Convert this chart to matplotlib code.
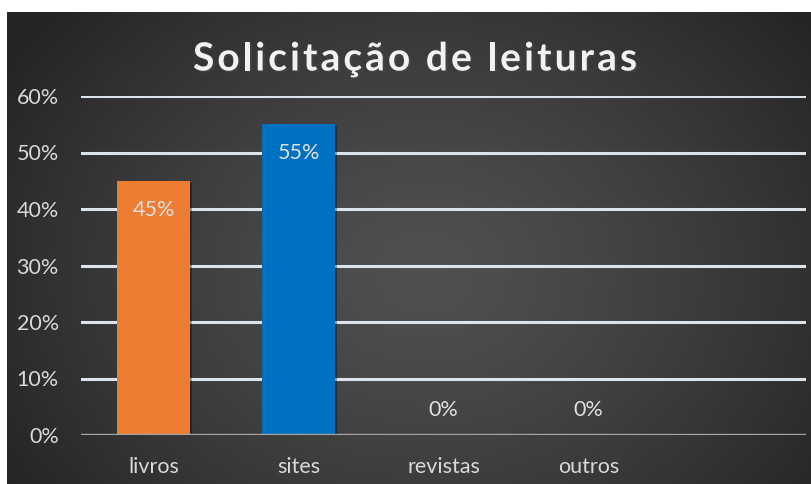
import numpy as np
import matplotlib
matplotlib.use("Agg")
import matplotlib.pyplot as plt
import matplotlib.patheffects as pe
from matplotlib.font_manager import FontProperties

categories = ["livros", "sites", "revistas", "outros", ""]
values = [0.45, 0.55, 0.0, 0.0]
bar_colors = ["#ED7D31", "#0070C0", "#A5A5A5", "#FFC000"]
yticks = [0, 0.1, 0.2, 0.3, 0.4, 0.5, 0.6]
title = "Solicitação de leituras"

W, H, DPI = 811, 484, 100
fig = plt.figure(figsize=(W / DPI, H / DPI), dpi=DPI, facecolor="white")

# background with radial gradient
bg = fig.add_axes([7 / W, 0, 1 - 7 / W, 1 - 12 / H])
bg.set_axis_off()
ny, nx = 300, 500
yy, xx = np.mgrid[0:ny, 0:nx]
cx, cy = nx * 0.52, ny * 0.55
r = np.sqrt(((xx - cx) / (nx * 0.62)) ** 2 + ((yy - cy) / (ny * 0.85)) ** 2)
r = np.clip(r, 0, 1)
light, dark = 0x50, 0x24
g = (light + (dark - light) * r ** 1.3) / 255.0
img = np.dstack([g, g, g])
bg.imshow(img, aspect="auto", extent=[0, 1, 0, 1], interpolation="bilinear")
bg.set_xlim(0, 1)
bg.set_ylim(0, 1)

ax = fig.add_axes([81 / W, 1 - 435 / H, (806 - 81) / W, (435 - 96) / H])
ax.patch.set_alpha(0)
x = np.arange(len(values))
bars = ax.bar(x, values, width=0.5, color=bar_colors[: len(values)], zorder=3)
for b in bars:
    b.set_path_effects([pe.SimplePatchShadow(offset=(1.5, -1.5), shadow_rgbFace="black", alpha=0.35), pe.Normal()])

ax.set_xlim(-0.5, len(categories) - 0.5)
ax.set_ylim(0, 0.6)
ax.set_yticks(yticks)
ax.set_yticklabels([f"{int(round(t * 100))}%" for t in yticks])
ax.set_xticks(np.arange(len(categories)))
ax.set_xticklabels(categories)
for s in ax.spines.values():
    s.set_visible(False)
ax.tick_params(axis="both", length=0, colors="#D9D9D9", labelsize=15.5)
ax.tick_params(axis="y", pad=16)
ax.tick_params(axis="x", pad=16)
for lab in ax.get_xticklabels() + ax.get_yticklabels():
    lab.set_fontfamily("Lato")

for t in yticks[1:]:
    ax.axhline(t, color="#DCE3EA", lw=2.2, zorder=1)
ax.axhline(0, color="#A6A6A6", lw=2.4, zorder=4)

for xi, v in zip(x, values):
    off = -21 if v > 0 else 18
    ax.annotate(f"{int(round(v * 100))}%", (xi, v), xytext=(0, off), textcoords="offset points",
                ha="center", va="center", color="#E0E0E0", fontsize=15.5, family="Lato", zorder=5)

# Title with letter spacing
fig.canvas.draw()
renderer = fig.canvas.get_renderer()
fs = 28
fp = FontProperties(family="Lato", weight="bold", size=fs)
widths = []
for ch in title:
    if ch == " ":
        w, _, _ = renderer.get_text_width_height_descent("a a", fp, ismath=False)
        w2, _, _ = renderer.get_text_width_height_descent("aa", fp, ismath=False)
        widths.append(w - w2)
    else:
        w, _, _ = renderer.get_text_width_height_descent(ch, fp, ismath=False)
        widths.append(w)
target = 637 - 193
spacing = (target - sum(widths)) / (len(title) - 1)
xpos = 193
ty = 1 - 59 / H
for ch, w in zip(title, widths):
    if ch != " ":
        fig.text(xpos / W, ty, ch, fontproperties=fp, color="#F2F2F2", va="center", ha="left",
                 path_effects=[pe.SimplePatchShadow(offset=(1.5, -1.5), alpha=0.5), pe.Normal()])
    xpos += w + spacing

fig.savefig("out.png", dpi=DPI, facecolor="white")
